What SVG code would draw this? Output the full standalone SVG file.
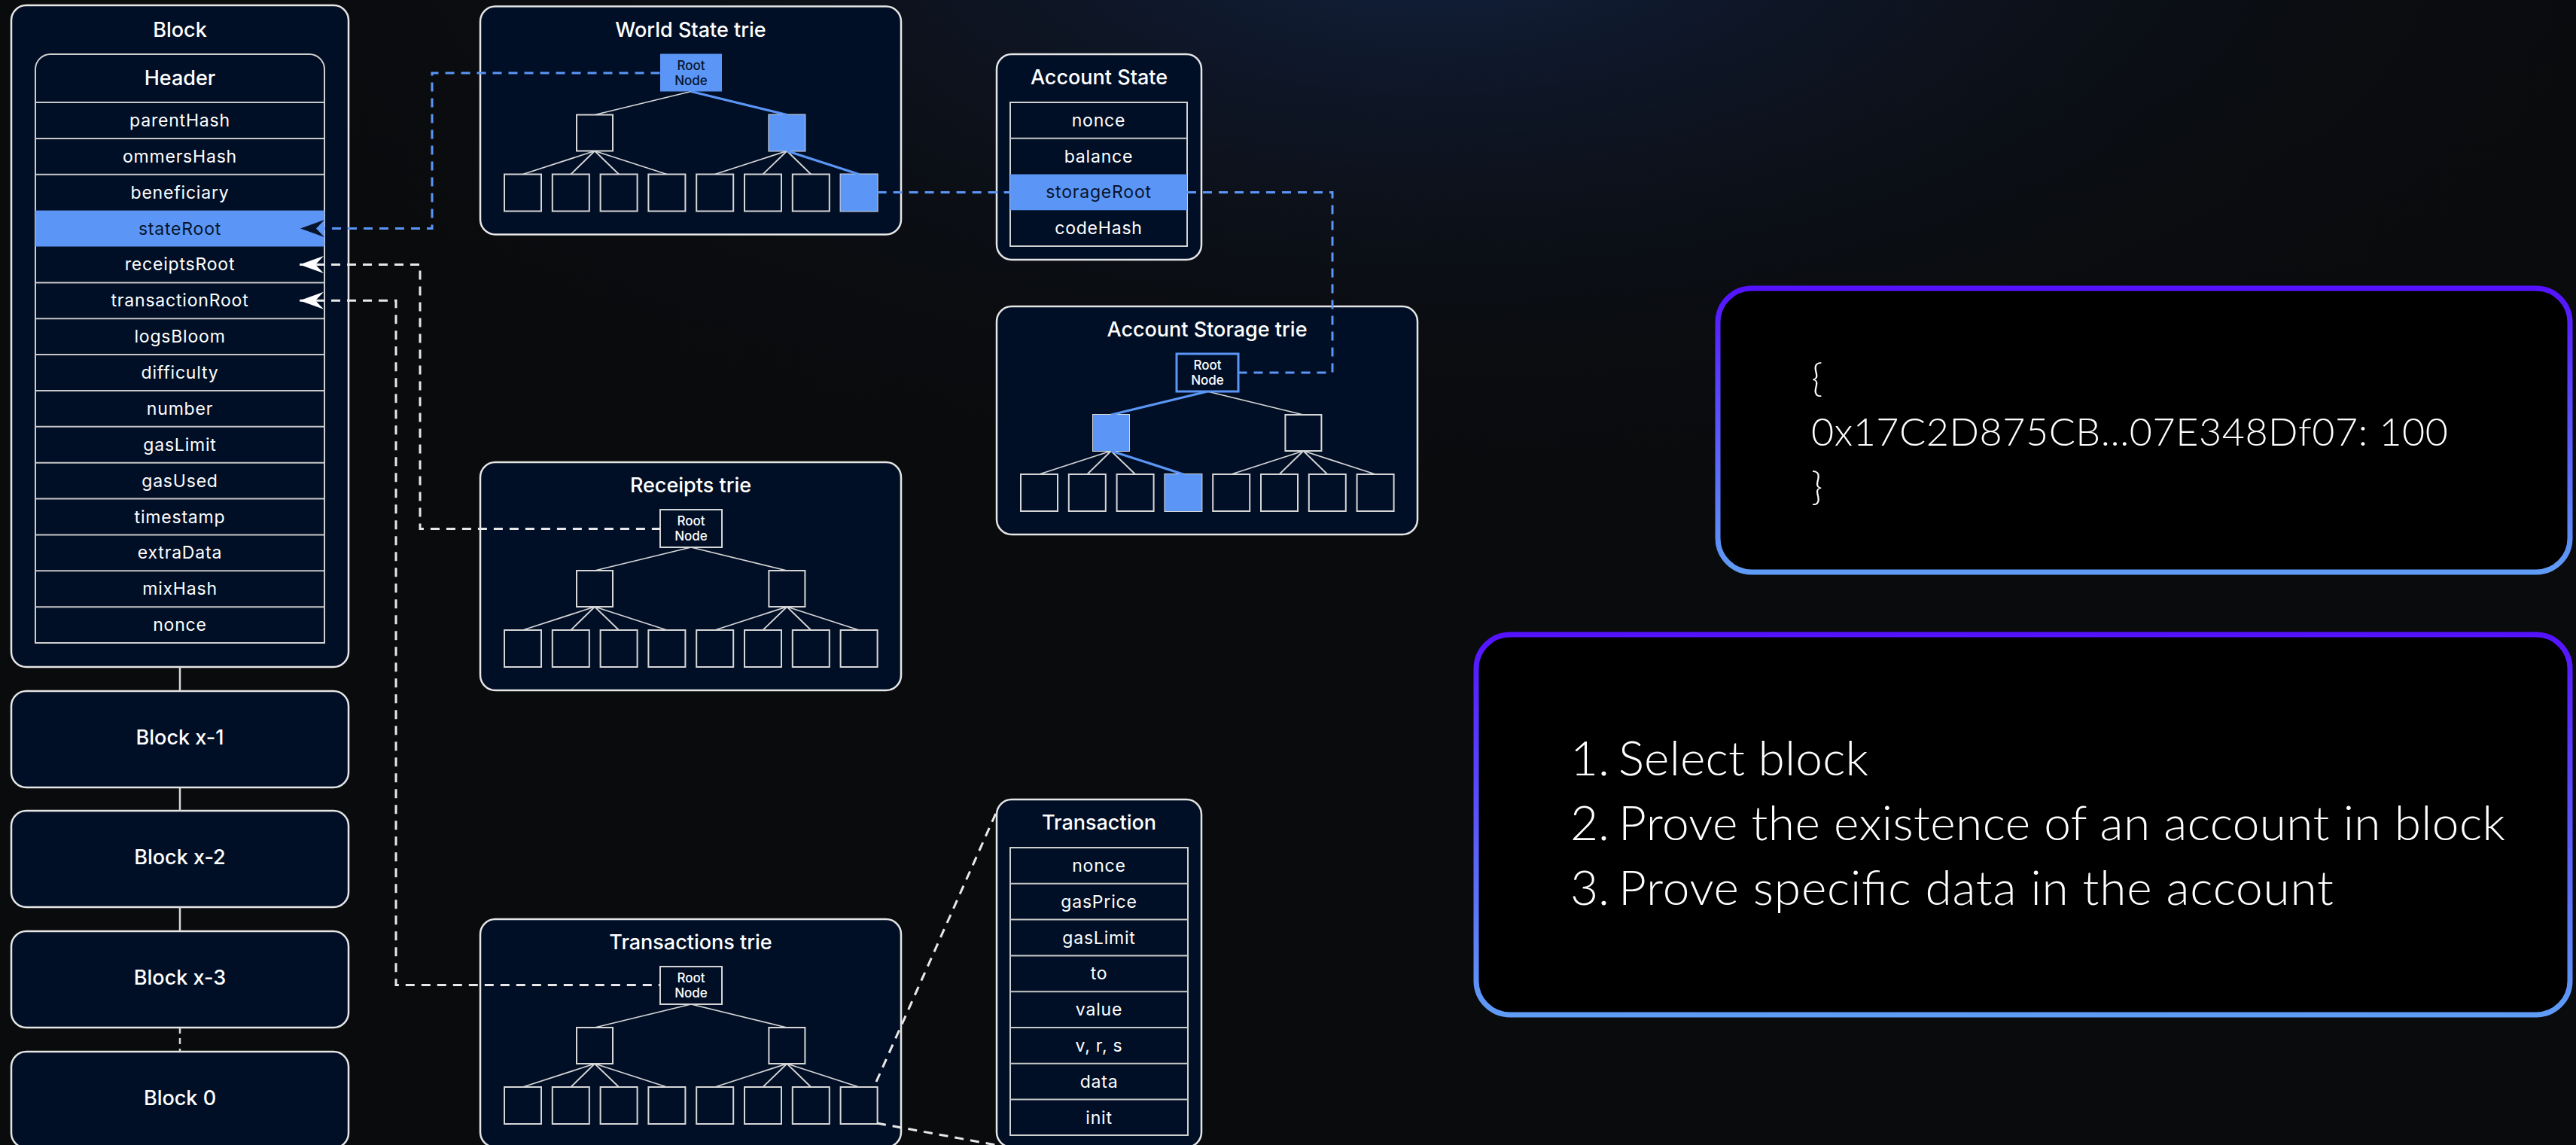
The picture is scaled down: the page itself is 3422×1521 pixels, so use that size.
<svg xmlns="http://www.w3.org/2000/svg" xmlns:xlink="http://www.w3.org/1999/xlink" width="3422" height="1521" viewBox="0 0 3422 1521">
<style>
.node{fill:#010f26;stroke:#e6e6e6;stroke-width:2.5}
.inner{fill:#010f26;stroke:#d0d0d0;stroke-width:2}
.sep{stroke:#c8c8c8;stroke-width:2}
.hl{fill:#5b96f6}
.lbl{font-family:Inter,"Liberation Sans",sans-serif;fill:#ffffff;text-anchor:middle}
.title{font-size:27px;font-weight:500}
.row{font-size:23px;font-weight:400;letter-spacing:0.8px;dominant-baseline:central}
.dark{fill:#06142c}
.root{font-size:17px;font-weight:500}
.tn{fill:#010f26;stroke:#d6d6d6;stroke-width:2}
.edge{stroke:#d6d6d6;stroke-width:1.8;fill:none}
.bedge{stroke:#5b96f6;stroke-width:3.2;fill:none}
.dashw{stroke:#e8e8e8;stroke-width:3;stroke-dasharray:12 9;fill:none}
.dashb{stroke:#5b96f6;stroke-width:3;stroke-dasharray:12 9;fill:none}
.card{fill:#000000;stroke:url(#cardStroke);stroke-width:7}
.big{font-family:Lato,Inter,"Liberation Sans",sans-serif;font-weight:300;fill:#ffffff}
</style>
<defs>
<radialGradient id="bgGlow" cx="1900" cy="-100" r="1700" gradientUnits="userSpaceOnUse" gradientTransform="translate(1900 -100) scale(1 0.45) translate(-1900 100)">
<stop offset="0" stop-color="#14264a" stop-opacity="0.85"/>
<stop offset="1" stop-color="#0a0b0d" stop-opacity="0"/>
</radialGradient>
<linearGradient id="cardStroke" x1="0" y1="0" x2="0" y2="1">
<stop offset="0" stop-color="#5512ff"/>
<stop offset="1" stop-color="#5f9cf6"/>
</linearGradient>
<marker id="ahW" markerUnits="userSpaceOnUse" viewBox="-34 -13 36 26" refX="0" refY="0" markerWidth="36" markerHeight="26" orient="auto-start-reverse">
<path d="M0,0 L-32,-11.5 L-21,0 L-32,11.5 Z" fill="#ffffff"/>
</marker>
<marker id="ahD" markerUnits="userSpaceOnUse" viewBox="-34 -13 36 26" refX="0" refY="0" markerWidth="36" markerHeight="26" orient="auto-start-reverse">
<path d="M0,0 L-32,-11.5 L-21,0 L-32,11.5 Z" fill="#06142c"/>
</marker>
<g id="tree">
<path class="edge" d="M280,113 L152,144 M280,113 L407.4,144 M152,192 L56.5,223 M152,192 L120.3,223 M152,192 L184.1,223 M152,192 L247.9,223 M407.4,192 L311.7,223 M407.4,192 L375.5,223 M407.4,192 L439.3,223 M407.4,192 L503.1,223"/>
<rect class="tn" x="128" y="144" width="48" height="48"/>
<rect class="tn" x="383.4" y="144" width="48" height="48"/>
<rect class="tn" x="32" y="223" width="49" height="49"/>
<rect class="tn" x="95.8" y="223" width="49" height="49"/>
<rect class="tn" x="159.6" y="223" width="49" height="49"/>
<rect class="tn" x="223.4" y="223" width="49" height="49"/>
<rect class="tn" x="287.2" y="223" width="49" height="49"/>
<rect class="tn" x="351" y="223" width="49" height="49"/>
<rect class="tn" x="414.8" y="223" width="49" height="49"/>
<rect class="tn" x="478.6" y="223" width="49" height="49"/>
</g>
</defs>

<rect x="0" y="0" width="3422" height="1521" fill="#0a0b0d"/>
<rect x="0" y="0" width="3422" height="1521" fill="url(#bgGlow)"/>

<!-- Block -->
<g id="block">
<rect class="node" x="15" y="7" width="448" height="879" rx="20"/>
<text class="lbl title" x="239" y="49">Block</text>
<path class="inner" d="M47,136 V92 A20,20 0 0 1 67,72 H411 A20,20 0 0 1 431,92 V854 H47 Z"/>
<text class="lbl title" x="239" y="113">Header</text>
<rect class="hl" x="47" y="279.6" width="384" height="47.9"/>
<path class="sep" d="M47,136H431 M47,183.9H431 M47,231.7H431 M47,375.4H431 M47,423.2H431 M47,471.1H431 M47,519H431 M47,566.8H431 M47,614.7H431 M47,662.6H431 M47,710.4H431 M47,758.3H431 M47,806.2H431"/>
<text class="lbl row" x="239" y="159.9">parentHash</text>
<text class="lbl row" x="239" y="207.8">ommersHash</text>
<text class="lbl row" x="239" y="255.7">beneficiary</text>
<text class="lbl row dark" x="239" y="303.5">stateRoot</text>
<text class="lbl row" x="239" y="351.4">receiptsRoot</text>
<text class="lbl row" x="239" y="399.3">transactionRoot</text>
<text class="lbl row" x="239" y="447.2">logsBloom</text>
<text class="lbl row" x="239" y="495">difficulty</text>
<text class="lbl row" x="239" y="542.9">number</text>
<text class="lbl row" x="239" y="590.8">gasLimit</text>
<text class="lbl row" x="239" y="638.6">gasUsed</text>
<text class="lbl row" x="239" y="686.5">timestamp</text>
<text class="lbl row" x="239" y="734.4">extraData</text>
<text class="lbl row" x="239" y="782.2">mixHash</text>
<text class="lbl row" x="239" y="830.1">nonce</text>
</g>

<g id="block-x1">
<rect class="node" x="15" y="918" width="448" height="128" rx="20"/>
<text class="lbl title" x="239" y="979" dominant-baseline="central">Block x-1</text>
</g>
<g id="block-x2">
<rect class="node" x="15" y="1077" width="448" height="128" rx="20"/>
<text class="lbl title" x="239" y="1138" dominant-baseline="central">Block x-2</text>
</g>
<g id="block-x3">
<rect class="node" x="15" y="1237" width="448" height="128" rx="20"/>
<text class="lbl title" x="239" y="1298" dominant-baseline="central">Block x-3</text>
</g>
<g id="block-0">
<rect class="node" x="15" y="1397" width="448" height="128" rx="20"/>
<text class="lbl title" x="239" y="1458" dominant-baseline="central">Block 0</text>
</g>

<!-- World State trie -->
<g id="world-state-trie" transform="translate(638 8.5)">
<rect class="node" x="0" y="0" width="559" height="303" rx="20"/>
<text class="lbl title" x="279.5" y="40">World State trie</text>
<use href="#tree"/>
<path class="bedge" d="M280,113 L407.4,144 M407.4,192 L503.1,223"/>
<rect class="hl" x="383.4" y="144" width="48" height="48"/>
<rect class="hl" x="478.6" y="223" width="49" height="49"/>
<rect class="hl" x="239" y="63" width="82" height="50"/>
<text class="lbl root dark" x="280" y="84">Root</text>
<text class="lbl root dark" x="280" y="104">Node</text>
</g>

<!-- Receipts trie -->
<g id="receipts-trie" transform="translate(638 614)">
<rect class="node" x="0" y="0" width="559" height="303" rx="20"/>
<text class="lbl title" x="279.5" y="40">Receipts trie</text>
<use href="#tree"/>
<rect class="tn" x="239" y="63" width="82" height="50"/>
<text class="lbl root" x="280" y="84">Root</text>
<text class="lbl root" x="280" y="104">Node</text>
</g>

<!-- Transactions trie -->
<g id="transactions-trie" transform="translate(638 1221)">
<rect class="node" x="0" y="0" width="559" height="303" rx="20"/>
<text class="lbl title" x="279.5" y="40">Transactions trie</text>
<use href="#tree"/>
<rect class="tn" x="239" y="63" width="82" height="50"/>
<text class="lbl root" x="280" y="84">Root</text>
<text class="lbl root" x="280" y="104">Node</text>
</g>

<!-- Account State -->
<g id="account-state">
<rect class="node" x="1324" y="72" width="272" height="273" rx="20"/>
<text class="lbl title" x="1460" y="112">Account State</text>
<rect class="inner" x="1342" y="136" width="235" height="191"/>
<rect class="hl" x="1342" y="231.5" width="235" height="47.75"/>
<path class="sep" d="M1342,183.75H1577"/>
<text class="lbl row" x="1459.5" y="159.9">nonce</text>
<text class="lbl row" x="1459.5" y="207.6">balance</text>
<text class="lbl row dark" x="1459.5" y="255.4">storageRoot</text>
<text class="lbl row" x="1459.5" y="303.1">codeHash</text>
</g>

<!-- Account Storage trie -->
<g id="account-storage-trie" transform="translate(1324 407)">
<rect class="node" x="0" y="0" width="559" height="303" rx="20"/>
<text class="lbl title" x="279.5" y="40">Account Storage trie</text>
<use href="#tree"/>
<path class="bedge" d="M280,113 L152,144 M152,192 L247.9,223"/>
<rect class="hl" x="128" y="144" width="48" height="48"/>
<rect class="hl" x="223.4" y="223" width="49" height="49"/>
<rect x="239" y="63" width="82" height="50" fill="#010f26" stroke="#5b96f6" stroke-width="3"/>
<text class="lbl root" x="280" y="84">Root</text>
<text class="lbl root" x="280" y="104">Node</text>
</g>

<!-- Transaction -->
<g id="transaction">
<rect class="node" x="1324" y="1062" width="272" height="462" rx="20"/>
<text class="lbl title" x="1460" y="1102">Transaction</text>
<rect class="inner" x="1342" y="1126" width="236" height="382"/>
<path class="sep" d="M1342,1173.8H1578 M1342,1221.6H1578 M1342,1269.4H1578 M1342,1317.2H1578 M1342,1365H1578 M1342,1412.8H1578 M1342,1460.6H1578"/>
<text class="lbl row" x="1460" y="1149.9">nonce</text>
<text class="lbl row" x="1460" y="1197.7">gasPrice</text>
<text class="lbl row" x="1460" y="1245.5">gasLimit</text>
<text class="lbl row" x="1460" y="1293.3">to</text>
<text class="lbl row" x="1460" y="1341.1">value</text>
<text class="lbl row" x="1460" y="1388.9">v, r, s</text>
<text class="lbl row" x="1460" y="1436.7">data</text>
<text class="lbl row" x="1460" y="1484.5">init</text>
</g>

<!-- Cards -->
<g id="card-kv">
<rect class="card" x="2282" y="383" width="1132" height="377" rx="45"/>
<text class="big" font-size="52" x="2406" y="520">{</text>
<text class="big" font-size="52" x="2406" y="592" textLength="846">0x17C2D875CB...07E348Df07: 100</text>
<text class="big" font-size="52" x="2406" y="664">}</text>
</g>
<g id="card-steps">
<rect class="card" x="1961" y="843" width="1453" height="505" rx="45"/>
<text class="big" font-size="64" x="2138" y="1030" text-anchor="end">1.</text>
<text class="big" font-size="64" x="2150" y="1030" textLength="332">Select block</text>
<text class="big" font-size="64" x="2138" y="1116" text-anchor="end">2.</text>
<text class="big" font-size="64" x="2150" y="1116" textLength="1178">Prove the existence of an account in block</text>
<text class="big" font-size="64" x="2138" y="1202" text-anchor="end">3.</text>
<text class="big" font-size="64" x="2150" y="1202" textLength="950">Prove specific data in the account</text>
</g>

<!-- Connectors -->
<g id="connectors">
<path d="M239,886 V918 M239,1046 V1077 M239,1205 V1237" stroke="#d6d6d6" stroke-width="2.5" fill="none"/>
<path d="M239,1365 V1397" stroke="#d6d6d6" stroke-width="2.5" stroke-dasharray="8 6" fill="none"/>
<path class="dashb" d="M399,303.5 H574 V97 H877" marker-start="url(#ahD)"/>
<path class="dashw" d="M398,351.4 H558 V702.5 H877" marker-start="url(#ahW)"/>
<path class="dashw" d="M398,399.3 H526 V1308.5 H877" marker-start="url(#ahW)"/>
<path class="dashb" d="M1165.6,255.5 H1342"/>
<path class="dashb" d="M1577,255.5 H1770 V495 H1645"/>
<path class="dashw" d="M1164,1437 L1324,1078"/>
<path class="dashw" d="M1165,1492 L1323,1521"/>
</g>
</svg>
